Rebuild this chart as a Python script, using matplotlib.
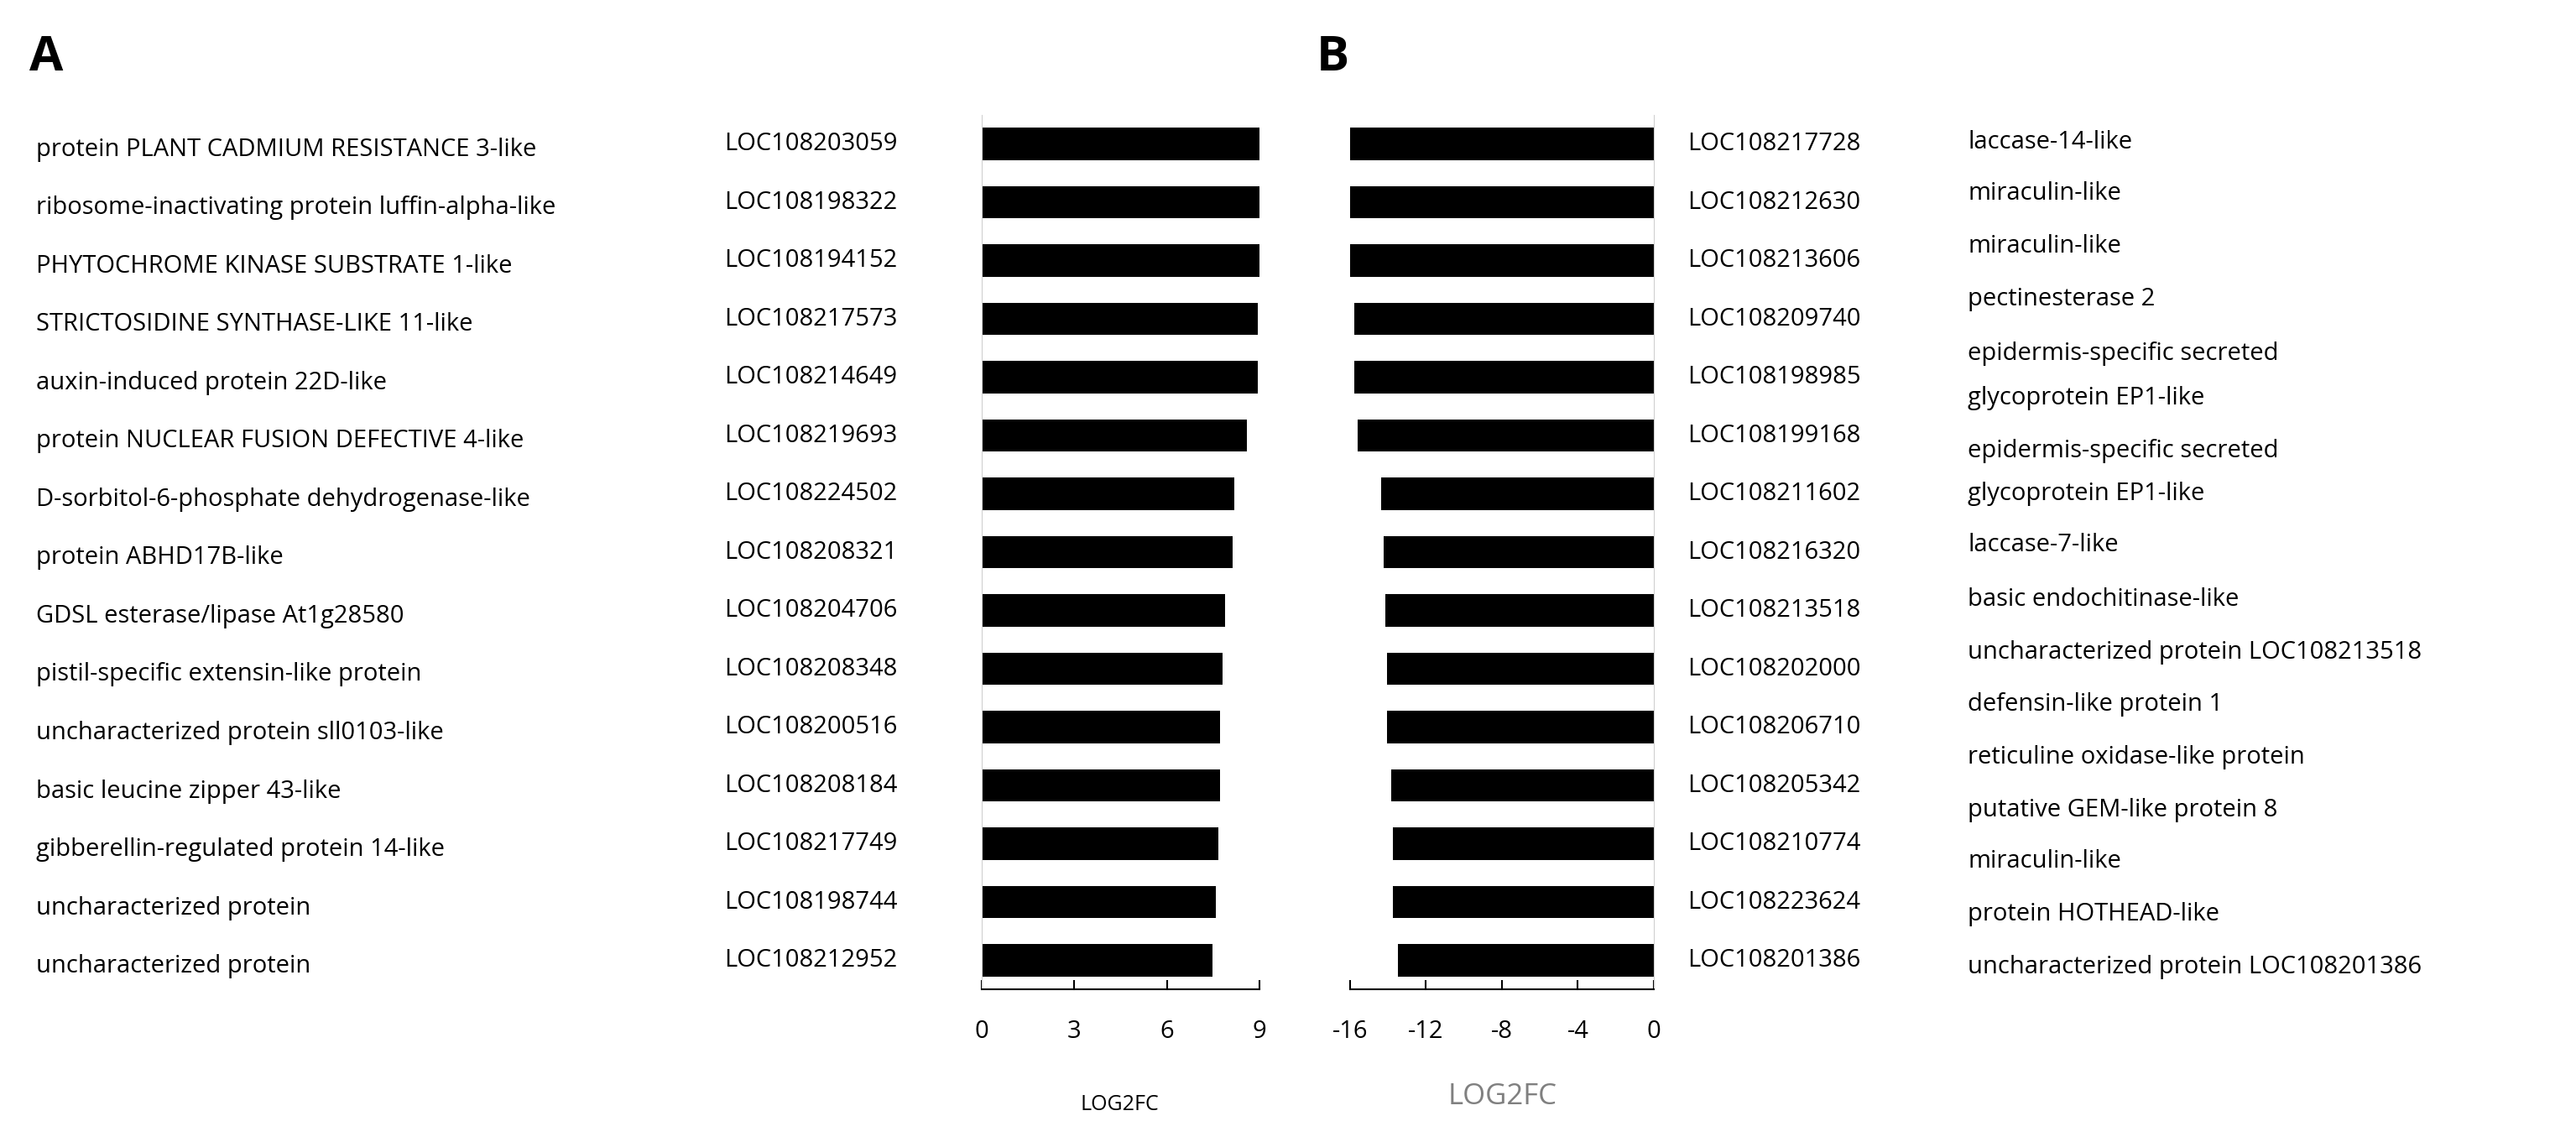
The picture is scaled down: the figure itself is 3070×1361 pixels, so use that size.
import matplotlib
matplotlib.use("Agg")
import matplotlib.pyplot as plt
from matplotlib.transforms import blended_transform_factory as blend

plt.rcParams["font.family"] = ["Open Sans", "DejaVu Sans"]
plt.rcParams["axes.unicode_minus"] = False

up_desc = ["protein PLANT CADMIUM RESISTANCE 3-like", "ribosome-inactivating protein luffin-alpha-like",
           "PHYTOCHROME KINASE SUBSTRATE 1-like", "STRICTOSIDINE SYNTHASE-LIKE 11-like",
           "auxin-induced protein 22D-like", "protein NUCLEAR FUSION DEFECTIVE 4-like",
           "D-sorbitol-6-phosphate dehydrogenase-like", "protein ABHD17B-like",
           "GDSL esterase/lipase At1g28580", "pistil-specific extensin-like protein",
           "uncharacterized protein sll0103-like", "basic leucine zipper 43-like",
           "gibberellin-regulated protein 14-like", "uncharacterized protein", "uncharacterized protein"]
up_loc = ["LOC108203059", "LOC108198322", "LOC108194152", "LOC108217573", "LOC108214649",
          "LOC108219693", "LOC108224502", "LOC108208321", "LOC108204706", "LOC108208348",
          "LOC108200516", "LOC108208184", "LOC108217749", "LOC108198744", "LOC108212952"]
up_fc = [9.02, 9.02, 9.02, 8.95, 8.95, 8.59, 8.19, 8.12, 7.87, 7.80, 7.73, 7.73, 7.66, 7.59, 7.47]

down_loc = ["LOC108217728", "LOC108212630", "LOC108213606", "LOC108209740", "LOC108198985",
            "LOC108199168", "LOC108211602", "LOC108216320", "LOC108213518", "LOC108202000",
            "LOC108206710", "LOC108205342", "LOC108210774", "LOC108223624", "LOC108201386"]
down_fc = [-16.0, -16.0, -16.0, -15.77, -15.77, -15.58, -14.34, -14.22, -14.14, -14.03,
           -14.03, -13.80, -13.72, -13.72, -13.49]
down_desc = ["laccase-14-like", "miraculin-like", "miraculin-like", "pectinesterase 2",
             "epidermis-specific secreted", "glycoprotein EP1-like", "epidermis-specific secreted",
             "glycoprotein EP1-like", "laccase-7-like", "basic endochitinase-like",
             "uncharacterized protein LOC108213518", "defensin-like protein 1",
             "reticuline oxidase-like protein", "putative GEM-like protein 8", "miraculin-like",
             "protein HOTHEAD-like", "uncharacterized protein LOC108201386"]
down_desc_y = [86, 117, 149, 181, 214, 241, 273, 299, 330, 363, 395, 426, 458, 490, 521, 553, 585]

fs = 21
fig = plt.figure(figsize=(30.7, 13.61), dpi=100)
axA = fig.add_axes([0.381, 0.1335, 0.108, 0.766])
axB = fig.add_axes([0.524, 0.1335, 0.118, 0.766])
n = len(up_fc)
ys = list(range(n))

for ax in (axA, axB):
    ax.set_ylim(n - 0.5, -0.5)
    ax.set_yticks([])
    ax.spines["top"].set_visible(False)
    ax.tick_params(axis="x", labelsize=fs, direction="in", length=8, pad=26, width=1.5)
    ax.spines["bottom"].set_linewidth(1.5)

axA.barh(ys, up_fc, height=0.55, color="black")
axA.set_xlim(0, 9)
axA.set_xticks([0, 3, 6, 9])
axA.spines["right"].set_visible(False)
axA.spines["left"].set_color("#d0d0d0")

axB.barh(ys, down_fc, height=0.55, color="black")
axB.set_xlim(-16, 0)
axB.set_xticks([-16, -12, -8, -4, 0])
axB.spines["left"].set_visible(False)
axB.spines["right"].set_color("#d0d0d0")

fig.text(0.4345, 0.033, "LOG2FC", fontsize=18, ha="center", va="center")
fig.text(0.5833, 0.040, "LOG2FC", fontsize=25, color="#808080", ha="center", va="center")

tA = blend(fig.transFigure, axA.transData)
tB = blend(fig.transFigure, axB.transData)
for y, d, l in zip(ys, up_desc, up_loc):
    fig.text(0.0141, y + 0.1, d, transform=tA, fontsize=fs, va="center")
    fig.text(0.281, y, l, transform=tA, fontsize=fs, va="center")
for y, l in zip(ys, down_loc):
    fig.text(0.655, y, l, transform=tB, fontsize=fs, va="center")
for y, d in zip(down_desc_y, down_desc):
    fig.text(0.764, 1 - y / 691, d, fontsize=fs, va="center")

fig.text(0.0115, 0.949, "A", fontsize=42, fontweight="bold", va="center")
fig.text(0.511, 0.949, "B", fontsize=42, fontweight="bold", va="center")

fig.savefig("out.png", dpi=100)
